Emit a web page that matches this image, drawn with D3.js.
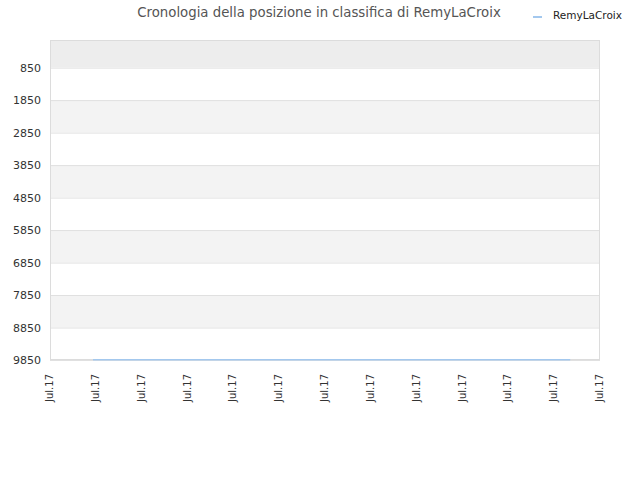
<!DOCTYPE html>
<html>
<head>
<meta charset="utf-8">
<script src="https://cdn.jsdelivr.net/npm/d3@7"></script>
<style>
  body { margin: 0; background: #fff; }
  svg { font-family: "DejaVu Sans", sans-serif; }
</style>
</head>
<body>
<svg id="chart"></svg>
<script>
// data
const seriesName = "RemyLaCroix";
const dates = ["2017-07-01T22:30", "2017-07-04T12:00", "2017-07-07T00:00", "2017-07-09T12:00", "2017-07-12T08:24"];
const ranks = [9840, 9840, 9840, 9840, 9840];
const yTicks = [850, 1850, 2850, 3850, 4850, 5850, 6850, 7850, 8850, 9850];
const xStart = "2017-07-01", xEnd = "2017-07-13";

const width = 640, height = 480;
const margin = {top: 40, right: 40, bottom: 120, left: 50};

const parse = d3.timeParse("%Y-%m-%dT%H:%M");
const parseDay = d3.timeParse("%Y-%m-%d");
const data = dates.map((d, i) => ({date: parse(d), rank: ranks[i]}));

const svg = d3.select("#chart").attr("width", width).attr("height", height);

const x = d3.scaleTime()
  .domain([parseDay(xStart), parseDay(xEnd)])
  .range([margin.left, width - margin.right]);
const y = d3.scaleLinear()
  .domain([0, 9850])
  .range([margin.top, height - margin.bottom]);

// background bands
const bandEdges = [0, ...yTicks];
svg.append("g").selectAll("rect")
  .data(d3.pairs(bandEdges))
  .join("rect")
    .attr("x", margin.left)
    .attr("width", width - margin.right - margin.left)
    .attr("y", d => y(d[0]))
    .attr("height", d => y(d[1]) - y(d[0]))
    .attr("fill", (d, i) => i === 0 ? "#ededed" : (i % 2 === 0 ? "#f3f3f3" : "#ffffff"));

// grid lines
svg.append("g").selectAll("line")
  .data(yTicks)
  .join("line")
    .attr("x1", margin.left).attr("x2", width - margin.right)
    .attr("y1", d => y(d) + 0.5).attr("y2", d => y(d) + 0.5)
    .attr("stroke", "#e0e0e0");

// frame
svg.append("rect")
  .attr("x", margin.left + 0.5).attr("y", margin.top + 0.5)
  .attr("width", width - margin.right - margin.left - 1)
  .attr("height", height - margin.bottom - margin.top - 1)
  .attr("fill", "none").attr("stroke", "#dcdcdc");

// y axis
svg.append("g")
  .attr("transform", `translate(${margin.left},0)`)
  .call(d3.axisLeft(y).tickValues(yTicks).tickSize(0).tickPadding(9).tickFormat(d3.format("d")))
  .call(g => g.select(".domain").remove())
  .call(g => g.selectAll("text").attr("font-size", 11).attr("fill", "#333").attr("font-family", "DejaVu Sans, sans-serif"));

// x axis
svg.append("g")
  .attr("transform", `translate(0,${height - margin.bottom})`)
  .call(d3.axisBottom(x).ticks(d3.timeDay.every(1)).tickSize(0).tickFormat(d3.timeFormat("%b.%y")))
  .call(g => g.select(".domain").remove())
  .call(g => g.selectAll("text")
      .attr("font-size", 10).attr("fill", "#333").attr("font-family", "DejaVu Sans, sans-serif")
      .attr("text-anchor", "end")
      .attr("transform", "rotate(-90)")
      .attr("x", -14).attr("y", -1).attr("dy", "0.35em"));

// line
svg.append("path")
  .datum(data)
  .attr("fill", "none")
  .attr("stroke", "#a3c8ee")
  .attr("stroke-width", 1.5)
  .attr("d", d3.line().x(d => x(d.date)).y(d => y(d.rank)));

// title
svg.append("text")
  .attr("x", 319).attr("y", 17)
  .attr("text-anchor", "middle")
  .attr("font-size", 13.3).attr("fill", "#555")
  .text("Cronologia della posizione in classifica di " + seriesName);

// legend
svg.append("line")
  .attr("x1", 533).attr("x2", 542).attr("y1", 17).attr("y2", 17)
  .attr("stroke", "#a3c8ee").attr("stroke-width", 2);
svg.append("text")
  .attr("x", 553).attr("y", 19)
  .attr("font-size", 10.5).attr("fill", "#222")
  .text(seriesName);
</script>
</body>
</html>
